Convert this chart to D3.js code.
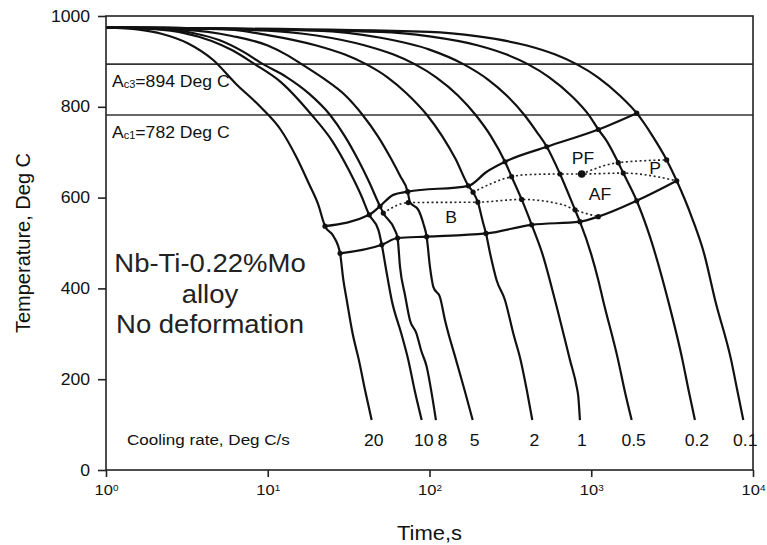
<!DOCTYPE html>
<html>
<head>
<meta charset="utf-8">
<script src="https://cdn.jsdelivr.net/npm/d3@7"></script>
<style>
  body { margin: 0; background: #fff; }
  svg { display: block; font-family: "Liberation Sans", Arial, Helvetica, sans-serif; }
</style>
</head>
<body>
<svg id="chart" width="767" height="545"></svg>
<script>
// cooling rates, Deg C/s
const rates = ['20', '10', '8', '5', '2', '1', '0.5', '0.2', '0.1']

// [time s, temperature C]
const curve20 = [[1, 975], [1.6, 970], [2.2, 961], [3.2, 940], [4.6, 903], [6.3, 852], [9, 800], [12, 750], [15, 690], [18, 630], [20.5, 585], [22.6, 537], [25.5, 515], [28, 477], [29.3, 420], [30.8, 374], [33.5, 300], [36.6, 242], [40, 175], [43.9, 110]]
const curve10 = [[1, 975], [2, 971], [3, 963], [4.5, 945], [6, 925], [8.3, 894], [12, 855], [18.7, 782], [25, 725], [32, 658], [38, 603], [42.4, 562], [48.3, 529], [50.7, 496], [54, 440], [58.4, 374], [67, 300], [74, 242], [81, 175], [89.5, 110]]
const curve8 = [[1, 975], [2, 972], [3.5, 962], [5, 947], [7, 922], [9.35, 894], [13, 866], [18, 829], [24.3, 782], [30, 735], [36, 685], [42, 637], [49.4, 581], [51.8, 566], [61.2, 528], [63.5, 511], [65.7, 448], [70.6, 385], [75.7, 330], [83, 301], [89, 262], [96, 228], [103, 170], [109.6, 110]]
const curve5 = [[1, 975], [3, 970], [6, 956], [10, 935], [13, 915], [16.2, 894], [22, 863], [30, 826], [38.6, 782], [48, 735], [58, 685], [66, 647], [73.3, 613], [75.7, 590], [85.3, 573], [91.6, 543], [96.1, 513], [100.7, 447], [105.7, 403], [116, 381], [124.7, 330], [146, 242], [165, 175], [185, 110]]
const curve2 = [[1, 975], [5, 972], [10, 958], [20, 935], [30, 915], [40.5, 894], [55, 865], [72, 830], [96.5, 782], [120, 735], [145, 685], [174, 626], [186, 612], [199, 590], [215, 543], [223.5, 521], [237, 477], [260, 418], [293, 374], [330, 300], [366, 242], [400, 175], [432, 110]]
const curve1 = [[1, 975], [10, 968], [20, 957], [40, 935], [60, 915], [81, 894], [110, 865], [150, 825], [193, 782], [240, 735], [293, 679], [322, 646], [371.5, 596], [428.5, 540], [500, 475], [597, 374], [739, 242], [813, 183], [832, 161], [851, 110]]
const curve05 = [[1, 975], [20, 968], [50, 952], [100, 926], [162, 894], [230, 860], [300, 825], [386, 782], [460, 745], [531, 712], [641, 652], [794, 573], [851, 547], [1000, 475], [1106, 418], [1183, 374], [1466, 242], [1620, 170], [1778, 110]]
const curve02 = [[1, 975], [50, 965], [100, 955], [200, 935], [300, 915], [405, 894], [550, 865], [750, 825], [965, 782], [1106, 750], [1250, 724], [1469, 677], [1578, 654], [1910, 593], [2300, 515], [2983, 374], [3665, 242], [4000, 175], [4375, 110]]
const curve01 = [[1, 975], [100, 965], [200, 955], [400, 935], [600, 915], [810, 894], [1100, 865], [1500, 825], [1911, 786], [2400, 735], [2926, 683], [3376, 637], [4200, 555], [5000, 475], [5834, 374], [7330, 242], [8000, 175], [8710, 110]]
const coolingCurves = [curve20, curve10, curve8, curve5, curve2, curve1, curve05, curve02, curve01]

// transformation start / finish lines
const transStart = [[22.6, 537], [42.4, 562], [49.4, 581], [59.7, 606], [73.3, 613], [174, 626], [226, 657], [293, 679], [531, 712], [1106, 750], [1911, 786]]
const transFinish = [[28, 477], [50.7, 496], [63.5, 511], [96.1, 514], [223.5, 521], [428.5, 540], [851, 547], [1106, 558], [1911, 593], [3376, 637]]
// dotted phase boundaries
const ferriteLine = [[186, 612], [322, 646], [378, 650], [641, 652], [873, 652], [1578, 654], [3376, 637]]
const pearliteLine = [[873, 652], [1469, 677], [2926, 683]]
const bainiteLine = [[51.8, 566], [73.9, 589], [199, 590], [371.5, 596], [671, 584], [794, 573], [1106, 558]]
// measured points marked on the diagram
const junctions = [[22.6, 537], [42.4, 562], [49.4, 581], [73.3, 613], [174, 626], [293, 679], [531, 712], [1106, 750], [1911, 786],
  [28, 477], [50.7, 496], [63.5, 511], [96.1, 514], [223.5, 521], [428.5, 540], [851, 547], [1106, 558], [1911, 593], [3376, 637],
  [51.8, 566], [73.9, 589], [199, 590], [186, 612], [322, 646], [371.5, 596], [641, 652], [794, 573], [1469, 677], [1578, 654], [2926, 683]]
const pfPoint = [873, 652]

// critical temperatures
const acNames = ['3', '1']
const acTemps = [894, 782]

// phase regions
const phaseNames = ['PF', 'P', 'AF', 'B']
const phasePoints = [[889, 674], [2478, 652], [1132, 595], [136, 544]]

// axes
const xTicks = [1, 10, 100, 1000, 10000]
const xTickExp = ['0', '1', '2', '3', '4']
const yTicks = [0, 200, 400, 600, 800, 1000]

const noteLines = ['Nb-Ti-0.22%Mo', 'alloy', 'No deformation']

const svg = d3.select('#chart')
const x = d3.scaleLog().domain([1, 1e4]).range([106, 753])
const y = d3.scaleLinear().domain([0, 1000]).range([470, 16])
const SX = 1.1 // the source picture is a bit wide, text too

const line = d3.line()
  .x(d => x(d[0]))
  .y(d => y(d[1]))
  .curve(d3.curveMonotoneX)

const addText = (sx, sy, str, size, anchor) => {
  return svg.append('text')
    .attr('transform', `translate(${sx},${sy}) scale(${SX},1)`)
    .attr('text-anchor', anchor || 'start')
    .attr('font-size', size)
    .attr('fill', '#111')
    .text(str)
}

// Ac lines
acTemps.forEach((T, i) => {
  svg.append('line')
    .attr('x1', x(1)).attr('x2', x(1e4))
    .attr('y1', y(T)).attr('y2', y(T))
    .attr('stroke', '#333')
    .attr('stroke-width', 1.6)
  const t = addText(112, y(T) + 23, 'A', 16)
  t.append('tspan').attr('font-size', 10).attr('dy', 1).text('c' + acNames[i])
  t.append('tspan').attr('dy', -1).text('=' + T + ' Deg C')
})

// cooling curves
svg.append('g')
  .selectAll('path')
  .data(coolingCurves)
  .enter()
  .append('path')
  .attr('d', line)
  .attr('fill', 'none')
  .attr('stroke', '#111')
  .attr('stroke-width', 2.2)

// start / finish
svg.append('g')
  .selectAll('path')
  .data([transStart, transFinish])
  .enter()
  .append('path')
  .attr('d', line)
  .attr('fill', 'none')
  .attr('stroke', '#111')
  .attr('stroke-width', 2.2)

svg.append('g')
  .selectAll('path')
  .data([ferriteLine, pearliteLine, bainiteLine])
  .enter()
  .append('path')
  .attr('d', line)
  .attr('fill', 'none')
  .attr('stroke', '#222')
  .attr('stroke-width', 1.6)
  .attr('stroke-dasharray', '2,2.6')

svg.append('g')
  .selectAll('circle')
  .data(junctions)
  .enter()
  .append('circle')
  .attr('cx', d => x(d[0]))
  .attr('cy', d => y(d[1]))
  .attr('r', 2.6)
  .attr('fill', '#111')

svg.append('circle')
  .attr('cx', x(pfPoint[0]))
  .attr('cy', y(pfPoint[1]))
  .attr('r', 3.8)
  .attr('fill', '#111')

// rate labels under the curve ends, pushed apart when they touch
let lastRight = 0
coolingCurves.forEach((c, i) => {
  const end = c[c.length - 1]
  const t = addText(0, 0, rates[i], 16, 'start')
  const w = t.node().getComputedTextLength() * SX
  let left = x(end[0]) + 2 - w / 2
  if (left < lastRight + 4) left = lastRight + 4
  lastRight = left + w
  t.attr('transform', `translate(${left},${y(end[1]) + 26}) scale(${SX},1)`)
})
addText(127, 445, 'Cooling rate, Deg C/s', 15.5)

phaseNames.forEach((p, i) => {
  addText(x(phasePoints[i][0]), y(phasePoints[i][1]), p, 16, 'middle')
})

noteLines.forEach((s, i) => {
  addText(210, 272 + i * 30.5, s, 25, 'middle').attr('fill', '#222')
})

// frame
svg.append('rect')
  .attr('x', x(1)).attr('y', y(1000))
  .attr('width', x(1e4) - x(1))
  .attr('height', y(0) - y(1000))
  .attr('fill', 'none')
  .attr('stroke', '#222')
  .attr('stroke-width', 1.6)

// axes
const gy = svg.append('g')
  .attr('transform', `translate(${x(1)},0)`)
  .call(d3.axisLeft(y).tickValues(yTicks).tickSize(8).tickPadding(8).tickFormat(d3.format('d')))
gy.select('.domain').remove()
gy.attr('font-size', null).attr('font-family', null)
gy.selectAll('.tick line').attr('stroke', '#222').attr('stroke-width', 1.6)
gy.selectAll('.tick text')
  .attr('font-size', 16)
  .attr('fill', '#111')
  .attr('x', -16 / SX)
  .attr('transform', `scale(${SX},1)`)

const gx = svg.append('g')
  .attr('transform', `translate(0,${y(0)})`)
  .call(d3.axisBottom(x).tickValues(xTicks).tickSize(7).tickPadding(7.5).tickFormat(''))
gx.select('.domain').remove()
gx.attr('font-size', null).attr('font-family', null)
gx.selectAll('.tick line').attr('stroke', '#222').attr('stroke-width', 1.6)
gx.selectAll('.tick text').each(function (d, i) {
  const t = d3.select(this)
  t.attr('font-size', 15)
    .attr('fill', '#111')
    .attr('transform', `scale(${SX},1)`)
    .text('10')
  t.append('tspan').attr('font-size', 9).attr('dy', -4).text(xTickExp[i])
})

addText((x(1) + x(1e4)) / 2, 540, 'Time,s', 20, 'middle')

svg.append('text')
  .attr('transform', `translate(30,${(y(0) + y(1000)) / 2}) rotate(-90)`)
  .attr('text-anchor', 'middle')
  .attr('font-size', 20)
  .attr('fill', '#111')
  .text('Temperature, Deg C')
</script>
</body>
</html>
